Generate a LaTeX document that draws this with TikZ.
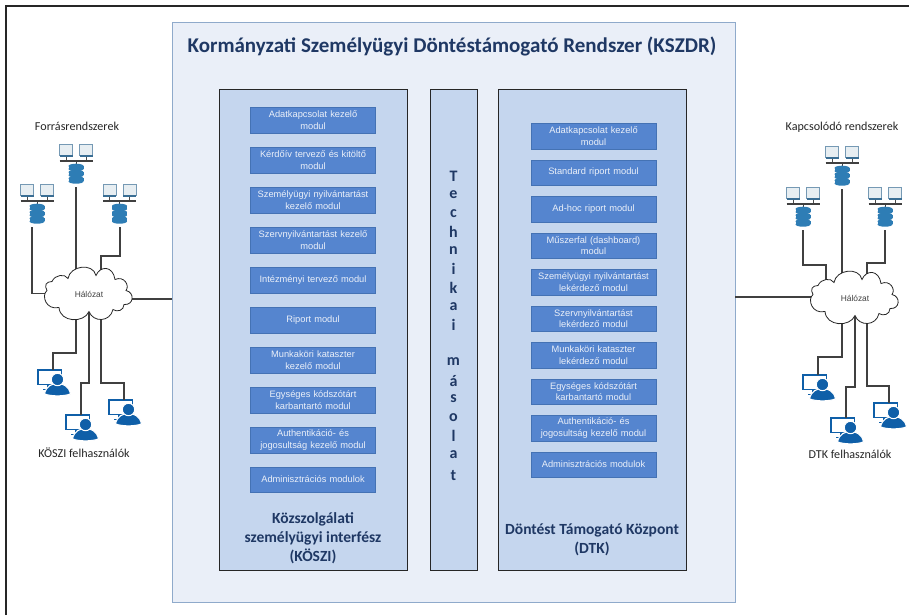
\documentclass[tikz,border=0pt]{standalone}
\usepackage{fontspec}
\setmainfont{Carlito}
\newfontfamily\arialf{Liberation Sans}
\definecolor{navy}{HTML}{1F3864}
\definecolor{panelbg}{HTML}{EAEFF8}
\definecolor{panelln}{HTML}{8FAACB}
\definecolor{innerbg}{HTML}{C5D6EE}
\definecolor{modbg}{HTML}{5585CF}
\definecolor{modln}{HTML}{4472B4}
\definecolor{userblue}{HTML}{0F5FA8}
\definecolor{dbblue}{HTML}{2E7DB5}
\definecolor{pcline}{HTML}{3A6E94}
\tikzset{
  x=1pt,y=-1pt,
  innerbox/.style={draw=black!85,line width=0.9pt,fill=innerbg,rectangle,minimum width=#1,minimum height=481pt,inner sep=0pt},
  modbox/.style={rectangle,fill=modbg,draw=modln,line width=0.4pt,minimum width=125pt,minimum height=25.5pt,inner sep=0pt,text=white!88!modbg,align=center,font=\arialf\fontsize{9.3}{11.5}\selectfont,text width=124pt},
  headl/.style={font=\bfseries\fontsize{15.5}{19}\selectfont,text=navy,align=center,inner sep=0pt},
  lab/.style={font=\fontsize{12.1}{14}\selectfont,text=black!85,inner sep=0pt},
  conn/.style={draw=black!75,line width=1.1pt},
  cloudtxt/.style={font=\arialf\fontsize{8.4}{10}\selectfont,text=black!75,inner sep=0pt}
}
% database server icon: x,y = centre of the bus; name of the connector's start; connector x offset
\newcommand{\dbicon}[4]{%
  \begin{scope}[shift={(#1,#2)}]
    \foreach \dx in {-10,10}{
      \filldraw[draw=pcline!70,fill=white!88!pcline,line width=0.6pt] (\dx-6.5,-17) rectangle (\dx+6.5,-6);
      \fill[pcline] (\dx-6.5,-6.5) rectangle (\dx+6.5,-4.5);
      \draw[black!70,line width=1pt] (\dx,-4.5) -- (\dx,0);
    }
    \draw[black!75,line width=1.3pt] (-16.5,0) -- (16.5,0);
    \draw[black!75,line width=1pt] (0,0) -- (0,3);
    \foreach \k in {0,1,2}{
      \fill[dbblue] (-7.5,5+\k*6.2) rectangle (7.5,8+\k*6.2);
      \fill[dbblue] (0,5+\k*6.2) ellipse (7.5 and 2.3);
      \fill[dbblue] (0,8+\k*6.2) ellipse (7.5 and 2.3);
    }
    \coordinate (#3) at (#4,26);
  \end{scope}
}
% user icon: x,y = point on the monitor's top edge where the connector lands; name
\newcommand{\usericon}[3]{%
  \begin{scope}[shift={(#1,#2)}]
    \draw[userblue,line width=1.6pt,fill=white] (-15,0) rectangle (8.5,14.5);
    \draw[userblue,line width=1.6pt] (-5,14.5) -- (-5,19) (-10,19.5) -- (-1,19.5);
    \filldraw[userblue,draw=white,line width=1.1pt] (-8.5,24) .. controls (-7,16) and (-1,13.5) .. (4.5,13.5) .. controls (10,13.5) and (16,16) .. (17.5,24) .. controls (10,26.5) and (-1,26.5) .. (-8.5,24) -- cycle;
    \filldraw[userblue,draw=white,line width=1pt] (4.5,9.5) circle (6.2);
    \coordinate (#3) at (0,0);
  \end{scope}
}
% cloud centred at x,y
\newcommand{\cloudshape}[2]{%
  \begin{scope}[shift={(#1,#2)}]
    \draw[black!85,line width=0.8pt,fill=white]
      (-36,-12) .. controls (-33,-19) and (-23,-20) .. (-20,-15)
      .. controls (-18,-28) and (5,-31) .. (8,-18)
      .. controls (12,-28) and (25,-28) .. (27,-14)
      .. controls (36,-18) and (42,-8) .. (38,-3)
      .. controls (47,-1) and (46,12) .. (36,11)
      .. controls (36,17) and (29,19) .. (25,16)
      .. controls (22,29) and (5,29) .. (1,18)
      .. controls (-4,30) and (-28,29) .. (-29,14)
      .. controls (-42,17) and (-47,2) .. (-41,-3)
      .. controls (-44,-8) and (-42,-12) .. (-36,-12) -- cycle;
  \end{scope}
}
\begin{document}
\begin{tikzpicture}
\useasboundingbox (0,0) rectangle (909,615);
\fill[white] (0,0) rectangle (909,615);
% outer frame
\draw[black!85,line width=1.1pt] (6,615) -- (6,6) -- (909,6);
% main panel
\node[draw=panelln,line width=1pt,fill=panelbg,minimum width=563pt,minimum height=579pt,inner sep=0pt] (main) at (453.5,312.5) {};
\node[headl,font=\bfseries\fontsize{21}{25}\selectfont] (title) at (452,46) {Kormányzati Személyügyi Döntéstámogató Rendszer (KSZDR)};
% inner panels
\node[innerbox=188pt] (koszi) at (313,329.5) {};
\node[innerbox=47pt] (tech) at (453.5,329.5) {};
\node[innerbox=188pt] (dtk) at (592,329.5) {};
% left modules
\node[modbox] (a1) at (313,120) {Adatkapcsolat kezelő\\modul};
\node[modbox] (a2) at (313,160) {Kérdőív tervező és kitöltő\\modul};
\node[modbox] (a3) at (313,200) {Személyügyi nyilvántartást\\kezelő modul};
\node[modbox] (a4) at (313,240) {Szervnyilvántartást kezelő\\modul};
\node[modbox] (a5) at (313,280) {Intézményi tervező modul};
\node[modbox] (a6) at (313,320) {Riport modul};
\node[modbox] (a7) at (313,360) {Munkaköri kataszter\\kezelő modul};
\node[modbox] (a8) at (313,400) {Egységes kódszótárt\\karbantartó modul};
\node[modbox] (a9) at (313,440) {Authentikáció- és\\jogosultság kezelő modul};
\node[modbox] (a10) at (313,479.5) {Adminisztrációs modulok};
% right modules
\node[modbox] (b1) at (593.5,136) {Adatkapcsolat kezelő\\modul};
\node[modbox] (b2) at (593.5,172.5) {Standard riport modul};
\node[modbox] (b3) at (593.5,209) {Ad-hoc riport modul};
\node[modbox] (b4) at (593.5,245.5) {Műszerfal (dashboard)\\modul};
\node[modbox] (b5) at (593.5,282) {Személyügyi nyilvántartást\\lekérdező modul};
\node[modbox] (b6) at (593.5,318.5) {Szervnyilvántartást\\lekérdező modul};
\node[modbox] (b7) at (593.5,355) {Munkaköri kataszter\\lekérdező modul};
\node[modbox] (b8) at (593.5,391.5) {Egységes kódszótárt\\karbantartó modul};
\node[modbox] (b9) at (593.5,428) {Authentikáció- és\\jogosultság kezelő modul};
\node[modbox] (b10) at (593.5,464.5) {Adminisztrációs modulok};
% vertical text
\foreach \ch/\yy in {T/176,e/195,c/214,h/232,n/251,i/269,k/288,a/307,i/325,m/362,á/381,s/399,o/418,l/436,a/455,t/476}{
  \node[headl,font=\bfseries\fontsize{16}{18}\selectfont] at (453.5,\yy) {\ch};
}
\node[headl] (kosztxt) at (313,538.5) {Közszolgálati\\személyügyi interfész\\(KÖSZI)};
\node[headl] (dtktxt) at (592,539.5) {Döntést Támogató Központ\\(DTK)};
% LEFT network
\dbicon{76}{161}{s1}{0}
\dbicon{37}{201}{s2}{-5}
\dbicon{119.5}{201}{s3}{0.5}
\usericon{53}{370}{u1}
\usericon{81}{415}{u2}
\usericon{124}{400}{u3}
\coordinate (cl1) at (76,276);
\coordinate (cl2) at (50,293.5);
\coordinate (cl3) at (101,276);
\coordinate (cd1) at (76,314);
\coordinate (cd2) at (89,308);
\coordinate (cd3) at (101,314);
\coordinate (cr) at (128,299);
\coordinate (mainl) at (172,299);
\draw[conn] (s1) -- (cl1);
\draw[conn] (s2) -- (32,293.5) -- (cl2);
\draw[conn] (s3) -- (120,256) -- (101,256) -- (cl3);
\draw[conn] (cd1) -- (76,353) -- (53,353) -- (u1);
\draw[conn] (cd2) -- (89,383) -- (81,383) -- (u2);
\draw[conn] (cd3) -- (101,383) -- (124,383) -- (u3);
\draw[conn] (cr) -- (mainl);
\cloudshape{88}{293.5}
\node[cloudtxt] (cloudA) at (89,294) {Hálózat};
\node[lab] (ltop) at (77,126) {Forrásrendszerek};
\node[lab] (lbot) at (84,453) {KÖSZI felhasználók};
% RIGHT network
\dbicon{842}{163}{t1}{0}
\dbicon{803}{204}{t2}{0}
\dbicon{885}{204}{t3}{0}
\usericon{818}{375}{v1}
\usericon{846}{418}{v2}
\usericon{889}{403}{v3}
\coordinate (dl1) at (842,282);
\coordinate (dl2) at (826,286);
\coordinate (dl3) at (867,282);
\coordinate (dd1) at (842,318);
\coordinate (dd2) at (855,312);
\coordinate (dd3) at (867,318);
\coordinate (dw) at (816,297);
\coordinate (mainr) at (735,297);
\draw[conn] (t1) -- (dl1);
\draw[conn] (t2) -- (803,265) -- (826,265) -- (dl2);
\draw[conn] (t3) -- (885,263) -- (867,263) -- (dl3);
\draw[conn] (dd1) -- (842,357) -- (818,357) -- (v1);
\draw[conn] (dd2) -- (855,387) -- (846,387) -- (v2);
\draw[conn] (dd3) -- (867,386) -- (889,386) -- (v3);
\draw[conn] (dw) -- (mainr);
\cloudshape{854}{297.5}
\node[cloudtxt] (cloudB) at (855,298) {Hálózat};
\node[lab] (rtop) at (842,127) {Kapcsolódó rendszerek};
\node[lab] (rbot) at (850,454) {DTK felhasználók};
\end{tikzpicture}
\end{document}
